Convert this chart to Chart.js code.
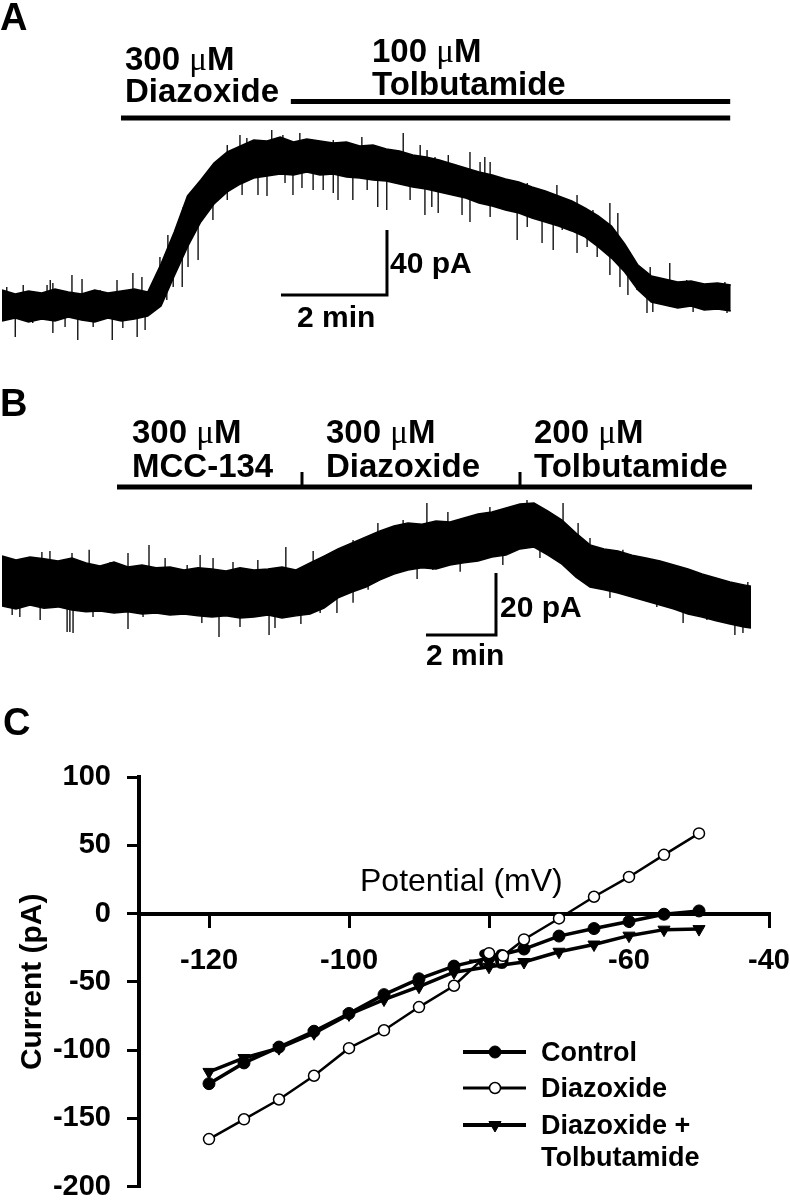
<!DOCTYPE html>
<html>
<head>
<meta charset="utf-8">
<script src="https://cdn.jsdelivr.net/npm/chart.js@4.4.1/dist/chart.umd.min.js"></script>
<style>
  html, body { margin: 0; padding: 0; background: #fff; overflow: hidden; }
  #page { position: relative; width: 790px; height: 1200px; overflow: hidden;
          font-family: "Liberation Sans", Arial, sans-serif; color: #000; }
  .box { position: absolute; }
  .lbl { position: absolute; line-height: 1; white-space: nowrap; }
  .mu { font-family: "Liberation Serif", "DejaVu Serif", serif; font-weight: normal; }
</style>
</head>
<body>
<div id="page">
  <div class="box" style="left:0;top:0;width:790px;height:350px"><canvas id="chartA"></canvas></div>
  <div class="box" style="left:0;top:360px;width:790px;height:310px"><canvas id="chartB"></canvas></div>
  <div class="box" style="left:0;top:680px;width:830px;height:540px"><canvas id="chartC"></canvas></div>
</div>
<script>
// ---- Panel A trace (time in min, current in pA, upper / lower edge of the noise band)
const timeA = [0,0.25,0.5,0.75,1,1.25,1.5,1.75,2,2.25,2.5,2.75,3,3.25,3.5,3.75,4,4.25,4.5,4.75,
  5,5.25,5.5,5.75,6,6.25,6.5,6.75,7,7.25,7.5,7.75,8,8.25,8.5,8.75,9,9.25,9.5,9.75,
  10,10.25,10.5,10.75,11,11.25,11.5,11.75,12,12.25,12.5,12.75,13,13.25,13.5,13.75];
const upperA = [9.8,7.4,9.2,8.0,10.5,8.6,7.4,9.8,8.0,9.2,10.5,8.6,25.8,45.5,67.7,77.5,88.0,94.8,98.5,102.2,
  101.5,104.0,100.9,102.8,101.5,100.3,100.9,98.5,99.1,96.6,95.4,92.9,91.7,89.8,87.4,84.9,82.5,80.6,78.2,76.3,
  73.2,70.8,67.7,64.6,60.3,55.4,49.2,38.2,25.2,18.5,16.6,14.8,15.4,13.5,14.2,12.9];
const lowerA = [-9.2,-7.4,-9.8,-8.0,-9.2,-6.8,-8.6,-9.8,-7.4,-9.2,-8.0,-6.2,0,18.5,36.3,51.7,62.8,70.2,75.1,78.8,
  80.0,81.2,80.6,82.5,80.6,81.2,79.4,78.8,77.5,76.9,75.1,73.2,72.0,70.2,68.3,66.5,63.4,61.5,59.1,57.2,
  54.2,51.7,49.2,46.2,42.5,36.3,29.5,20.9,9.8,2.5,0.6,-1.2,0,-2.5,-1.8,-3.1];
// single noise spikes: time and tip value
const spikeTimeA = [0.91,1.32,2.47,4.49,5.09,5.62,6.79,7.57,7.89,8.02,8.42,8.83,9.02,9.11,11.47,11.62,12.60,
  0.09,0.40,0.85,0.96,1.51,1.85,2.17,2.64,2.98,3.13,3.42,4.25,4.62,5.30,6.25,8.17,9.21,9.91,10.47,10.85,
  11.15,11.85,12.23,12.92,13.64,
  0.25,0.96,1.43,2.08,2.55,2.70,3.40,3.51,3.70,4.83,5.00,5.49,5.66,6.06,6.34,7.09,7.98,8.23,8.68,8.83,
  9.72,10.19,10.40,10.85,11.47,11.66,11.81,12.17,12.28,13.68,
  0.58,1.19,1.72,2.28,3.11,3.23,3.98,4.25,4.53,5.34,5.87,6.25,6.62,6.89,7.26,7.70,8.11,9.21,9.91,10.57,
  11.04,11.23,11.98,12.60,13.04,13.42];
const spikeTipA = [16.0,19.1,20.3,105.2,108.3,106.5,104.0,106.5,99.1,96.0,92.9,94.8,88.6,91.7,63.4,57.2,26.5,
  11.7,12.9,12.9,14.2,16.6,9.8,16.0,17.8,30.2,43.7,60.9,99.1,103.4,105.2,102.2,91.7,88.6,75.7,74.5,68.3,
  59.1,33.2,24.0,16.0,14.8,
  -19.1,-16.6,-20.9,-20.9,-19.1,-14.8,11.7,24.0,28.3,68.3,67.7,68.3,72.6,71.4,65.2,60.9,56.0,57.2,56.0,51.7,
  40.6,38.8,34.5,32.6,19.1,11.7,6.8,-4.3,-3.7,-4.3,
  -10.5,-12.9,-12.9,-13.5,3.7,11.7,52.9,65.2,68.3,75.7,71.4,69.5,65.2,71.4,59.1,65.2,60.9,54.8,48.6,46.8,
  36.3,30.2,9.8,-0.6,-3.7,-2.5];
const diazBarA = [2.245, 13.74];
const tolbBarA = [5.45, 13.74];
const scaleBarA = { t: 7.264, v: 6.77, dt: 2, dv: 40 };

// ---- Panel B trace
const timeB = [0,0.4,0.8,1.2,1.6,2,2.4,2.8,3.2,3.6,4,4.4,4.8,5.2,5.6,6,6.4,6.8,7.2,7.6,
  8,8.4,8.8,9.2,9.6,10,10.4,10.8,11.2,11.6,12,12.4,12.8,13.2,13.6,14,14.4,14.8,15.2,15.6,
  16,16.4,16.8,17.2,17.6,18,18.4,18.8,19.2,19.6,20,20.4,20.8,21.2,21.4];
const upperB = [10.3,9.0,10.0,9.4,8.7,9.7,8.1,7.1,8.4,6.8,7.4,6.5,6.8,5.8,6.5,6.1,5.5,6.5,5.8,6.1,
  6.8,5.8,8.1,10.3,12.6,14.5,16.5,18.4,20.0,21.0,20.6,21.6,21.3,22.6,23.9,24.5,25.8,27.1,27.4,24.8,
  21.9,17.7,13.9,12.6,11.9,10.6,9.7,8.7,7.4,6.1,4.5,3.2,1.9,1.0,0.6];
const lowerB = [-5.8,-6.8,-5.5,-6.5,-6.1,-7.1,-7.7,-7.4,-8.1,-7.7,-8.4,-8.1,-8.7,-8.4,-9.0,-9.4,-9.0,-9.7,-9.4,-8.7,
  -9.7,-9.0,-8.4,-6.5,-3.2,-1.3,0.3,2.6,4.5,5.8,6.5,6.1,7.4,8.1,8.7,10.0,10.6,12.6,13.2,10.6,
  7.7,3.5,0.3,-0.6,-1.6,-2.9,-4.2,-5.5,-6.8,-8.4,-9.4,-10.6,-11.6,-12.6,-12.9];
const spikeTimeB = [1.14,2.49,3.60,4.20,5.66,8.11,8.89,12.14,12.74,15.00,16.03,16.46,
  0.09,1.37,2.00,3.09,4.66,5.29,6.03,6.60,7.31,10.03,10.74,11.46,13.37,13.94,15.31,16.80,17.74,18.71,19.66,21.31,
  1.86,1.94,2.03,3.60,6.20,7.63,7.80,8.54,9.57,10.03,11.86,14.31,17.37,19.46,20.94,21.17,
  0.29,0.51,1.09,2.60,4.03,4.71,5.71,6.80,9.09,10.46,12.31,13.09,15.37,16.60,17.94,18.71,20.14];
const spikeTipB = [11.6,12.3,11.3,13.9,10.6,13.2,11.9,27.4,24.5,28.4,27.4,21.0,
  9.7,11.9,11.3,8.4,9.7,7.4,9.7,8.4,9.0,15.5,21.0,21.9,22.9,26.1,26.8,16.1,12.3,9.0,4.8,1.9,
  -14.2,-14.2,-14.5,-13.2,-15.8,-15.2,-12.9,-11.6,-8.1,-4.8,2.9,7.4,-3.2,-11.3,-15.2,-14.5,
  -8.7,-9.4,-10.3,-9.4,-9.4,-8.7,-11.3,-12.6,-8.1,-0.6,5.8,5.2,9.7,2.6,-0.6,-6.1,-10.3];
const drugBarB = [3.286, 21.43];
const drugTicksB = [8.571, 14.8];
const scaleBarB = { t: 14.114, v: -15.16, dt: 2, dv: 20 };

// ---- Panel C: I-V curves
const ivV = [-120,-115,-110,-105,-100,-95,-90,-85,-80,-75,-70,-65,-60,-55,-50];
const controlI = [-124.6,-109.4,-97.8,-86.2,-73.2,-59.4,-47.8,-38.5,-32.5,-26,-16.5,-11,-5.8,-0.5,1.9];
const diazV = [-120,-115,-110,-105,-100,-95,-90,-85,-80,-78,-75,-70,-65,-60,-55,-50];
const diazI = [-165.2,-150.7,-136.2,-118.8,-98.6,-85.5,-68.5,-52.9,-29,-31,-19,-3.6,12.3,26.8,43,58.7];
const tolbI = [-116,-105.8,-98.6,-87.7,-73.9,-63,-53.6,-43,-39,-35.5,-28,-22.7,-16.2,-11.8,-11.4];
const xTicks = [-120,-100,-80,-60,-40];
const yTicks = [-200,-150,-100,-50,0,50,100];

Chart.defaults.font.family = '"Liberation Sans", Arial, sans-serif';
Chart.defaults.color = '#000';

const page = document.getElementById('page');
function addLabel(html, x, base, size, weight) {
  const d = document.createElement('div');
  d.className = 'lbl';
  d.innerHTML = html;
  d.style.left = x + 'px';
  d.style.top = (base - 0.8465 * size) + 'px';
  d.style.fontSize = size + 'px';
  d.style.fontWeight = weight || 'bold';
  page.appendChild(d);
}
const MU = '<span class="mu">\u03bc</span>';

function spikePoints(times, tips, tt, up, lo) {
  const pts = [];
  times.forEach((t, i) => {
    let k = 0;
    for (let j = 1; j < tt.length; j++) if (Math.abs(tt[j] - t) < Math.abs(tt[k] - t)) k = j;
    const mid = (up[k] + lo[k]) / 2;
    pts.push({ x: t, y: mid }, { x: t, y: tips[i] }, { x: t, y: null });
  });
  return pts;
}

function seg(ctx, x1, y1, x2, y2) {
  ctx.beginPath();
  ctx.moveTo(x1, y1);
  ctx.lineTo(x2, y2);
  ctx.stroke();
}

function drawScaleBar(ctx, x, y, sb) {
  ctx.lineWidth = 3;
  ctx.lineJoin = 'miter';
  ctx.beginPath();
  ctx.moveTo(x.getPixelForValue(sb.t - sb.dt), y.getPixelForValue(sb.v));
  ctx.lineTo(x.getPixelForValue(sb.t), y.getPixelForValue(sb.v));
  ctx.lineTo(x.getPixelForValue(sb.t), y.getPixelForValue(sb.v + sb.dv));
  ctx.stroke();
}

function traceChart(id, times, up, lo, spT, spTip, cfg, annotate) {
  return new Chart(document.getElementById(id), {
    type: 'line',
    data: {
      datasets: [
        { data: times.map((t, i) => ({ x: t, y: up[i] })), borderColor: '#000', borderWidth: 1.5,
          backgroundColor: '#000', fill: '+1' },
        { data: times.map((t, i) => ({ x: t, y: lo[i] })), borderColor: '#000', borderWidth: 1.5, fill: false },
        { data: spikePoints(spT, spTip, times, up, lo), borderColor: '#000', borderWidth: 1.3,
          fill: false, spanGaps: false }
      ]
    },
    options: {
      animation: false,
      responsive: true,
      maintainAspectRatio: false,
      layout: { padding: cfg.padding },
      elements: { point: { radius: 0 }, line: { tension: 0 } },
      plugins: { legend: { display: false }, tooltip: { enabled: false } },
      scales: {
        x: { type: 'linear', display: false, min: 0, max: cfg.xMax, offset: false },
        y: { type: 'linear', display: false, min: cfg.yMin, max: cfg.yMax }
      }
    },
    plugins: [{ id: id + 'Ann', afterDatasetsDraw(chart) {
      const { ctx, scales: { x, y } } = chart;
      ctx.save();
      ctx.strokeStyle = '#000';
      ctx.lineCap = 'butt';
      annotate(ctx, x, y);
      ctx.restore();
    } }]
  });
}

// Panel A
traceChart('chartA', timeA, upperA, lowerA, spikeTimeA, spikeTipA,
  { padding: { left: 2, right: 59, top: 95, bottom: 5 }, xMax: 13.755, yMin: -24.0, yMax: 129.85 },
  (ctx, x, y) => {
    ctx.lineWidth = 5;
    seg(ctx, x.getPixelForValue(tolbBarA[0]), 101.5, x.getPixelForValue(tolbBarA[1]), 101.5);
    seg(ctx, x.getPixelForValue(diazBarA[0]), 118, x.getPixelForValue(diazBarA[1]), 118);
    drawScaleBar(ctx, x, y, scaleBarA);
  });

// Panel B
traceChart('chartB', timeB, upperB, lowerB, spikeTimeB, spikeTipB,
  { padding: { left: 2, right: 38, top: 135, bottom: 25 }, xMax: 21.4286, yMin: -18.4, yMax: 30.0 },
  (ctx, x, y) => {
    ctx.lineWidth = 5;
    seg(ctx, x.getPixelForValue(drugBarB[0]), 127, x.getPixelForValue(drugBarB[1]), 127);
    ctx.lineWidth = 3;
    drugTicksB.forEach(t => seg(ctx, x.getPixelForValue(t), 112, x.getPixelForValue(t), 127));
    drawScaleBar(ctx, x, y, scaleBarB);
  });

// Panel C
const axisGrid = { drawOnChartArea: false, drawTicks: true, tickLength: 12, lineWidth: 3, color: '#000' };
const axisBorder = { display: true, color: '#000', width: 4 };
const legendRows = [372, 408, 445];
new Chart(document.getElementById('chartC'), {
  type: 'line',
  data: {
    datasets: [
      { label: 'Control', data: ivV.map((v, i) => ({ x: v, y: controlI[i] })),
        borderColor: '#000', borderWidth: 3.5, pointStyle: 'circle', pointRadius: 6,
        pointBackgroundColor: '#000', pointBorderColor: '#000', pointBorderWidth: 1, order: 1 },
      { label: 'Diazoxide', data: diazV.map((v, i) => ({ x: v, y: diazI[i] })),
        borderColor: '#000', borderWidth: 2.5, pointStyle: 'circle', pointRadius: 5.5,
        pointBackgroundColor: '#fff', pointBorderColor: '#000', pointBorderWidth: 1.5, order: 0 },
      { label: 'Diazoxide + Tolbutamide', data: ivV.map((v, i) => ({ x: v, y: tolbI[i] })),
        borderColor: '#000', borderWidth: 3.5, pointStyle: 'triangle', pointRotation: 180, pointRadius: 7,
        pointBackgroundColor: '#000', pointBorderColor: '#000', pointBorderWidth: 1, order: 2 }
    ]
  },
  options: {
    animation: false,
    responsive: true,
    maintainAspectRatio: false,
    layout: { padding: { left: 0, right: 61, top: 97, bottom: 31 } },
    elements: { line: { tension: 0 } },
    plugins: { legend: { display: false }, tooltip: { enabled: false } },
    scales: {
      x: {
        type: 'linear', min: -130, max: -40, position: { y: 0 },
        afterBuildTicks: s => { s.ticks = xTicks.map(v => ({ value: v })); },
        grid: axisGrid, border: axisBorder,
        ticks: { color: '#000', font: { size: 29, weight: 'bold' }, padding: 18, maxRotation: 0, autoSkip: false }
      },
      y: {
        type: 'linear', min: -200, max: 100, position: 'left',
        afterBuildTicks: s => { s.ticks = yTicks.map(v => ({ value: v })); },
        afterFit: s => { s.width = 139; },
        grid: axisGrid, border: axisBorder,
        ticks: { color: '#000', font: { size: 29, weight: 'bold' }, padding: 16 },
        title: { display: true, text: 'Current (pA)', color: '#000',
                 font: { size: 30, weight: 'bold' }, padding: { top: 15, bottom: 0 } }
      }
    }
  },
  plugins: [{ id: 'legendC', afterDraw(chart) {
    const ctx = chart.ctx;
    ctx.save();
    chart.data.datasets.forEach((ds, i) => {
      const yy = legendRows[i];
      ctx.strokeStyle = '#000';
      ctx.lineWidth = ds.borderWidth + 0.5;
      seg(ctx, 463, yy, 526, yy);
      ctx.fillStyle = ds.pointBackgroundColor;
      ctx.strokeStyle = ds.pointBorderColor;
      ctx.lineWidth = ds.pointBorderWidth;
      Chart.helpers.drawPoint(ctx, { pointStyle: ds.pointStyle, radius: ds.pointRadius,
        rotation: ds.pointRotation || 0, borderWidth: ds.pointBorderWidth }, 495, yy);
    });
    ctx.restore();
  } }]
});

// Text
addLabel('A', 0, 30, 38);
addLabel('300 ' + MU + 'M', 125, 70, 33);
addLabel('Diazoxide', 125, 102, 33);
addLabel('100 ' + MU + 'M', 372, 62, 33);
addLabel('Tolbutamide', 372, 95, 33);
addLabel('40 pA', 390, 273, 30);
addLabel('2 min', 297, 327, 30);

addLabel('B', 0, 416, 38);
addLabel('300 ' + MU + 'M', 132, 443, 33);
addLabel('MCC-134', 132, 477, 33);
addLabel('300 ' + MU + 'M', 326, 443, 33);
addLabel('Diazoxide', 326, 477, 33);
addLabel('200 ' + MU + 'M', 534, 443, 33);
addLabel('Tolbutamide', 534, 477, 33);
addLabel('20 pA', 500, 617, 30);
addLabel('2 min', 426, 665, 30);

addLabel('C', 3, 735, 38);
addLabel('Potential (mV)', 360, 891, 32, 'normal');
addLabel('Control', 541, 1062, 27);
addLabel('Diazoxide', 541, 1098, 27);
addLabel('Diazoxide +', 541, 1135, 27);
addLabel('Tolbutamide', 541, 1167, 27);
</script>
</body>
</html>
